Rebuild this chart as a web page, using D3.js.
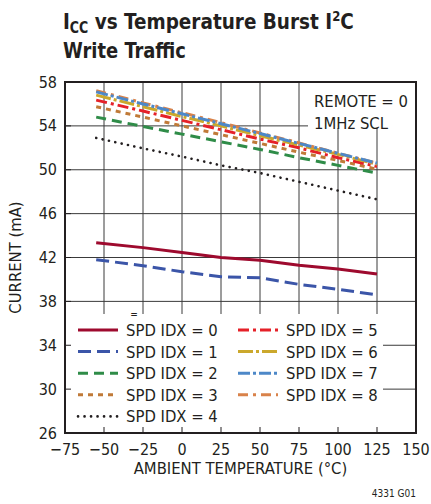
<!DOCTYPE html>
<html><head><meta charset="utf-8">
<script src="https://cdn.jsdelivr.net/npm/d3@7"></script>
<style>
body{margin:0;background:#fff;}
text{font-family:"Liberation Sans Narrow","DejaVu Sans Condensed","Roboto",sans-serif;fill:#231f20;}
</style></head>
<body><svg id="c" width="431" height="504"></svg>
<script>
const temps = [-55, -25, 0, 25, 50, 75, 100, 125];
const spd0 = [43.35, 42.9, 42.45, 42.0, 41.75, 41.3, 40.95, 40.5];
const spd1 = [41.8, 41.25, 40.7, 40.25, 40.15, 39.55, 39.1, 38.6];
const spd2 = [54.8, 53.95, 53.25, 52.55, 51.85, 51.1, 50.4, 49.7];
const spd3 = [55.75, 54.8, 54.0, 53.2, 52.4, 51.6, 50.85, 50.05];
const spd4 = [52.9, 51.95, 51.2, 50.4, 49.7, 48.9, 48.1, 47.3];
const spd5 = [56.35, 55.35, 54.5, 53.65, 52.8, 52.0, 51.1, 50.3];
const spd6 = [56.8, 55.75, 54.85, 54.0, 53.1, 52.25, 51.4, 50.5];
const spd7 = [57.1, 56.0, 55.1, 54.2, 53.3, 52.4, 51.5, 50.6];
const spd8 = [57.2, 56.1, 55.2, 54.3, 53.35, 52.45, 51.5, 50.6];
const seriesNames = ["SPD IDX = 0","SPD IDX = 1","SPD IDX = 2","SPD IDX = 3","SPD IDX = 4","SPD IDX = 5","SPD IDX = 6","SPD IDX = 7","SPD IDX = 8"];
const xTicks = [-75, -50, -25, 0, 25, 50, 75, 100, 125, 150];
const yTicks = [26, 30, 34, 38, 42, 46, 50, 54, 58];

const styles = [
  {c:"#9e0a2e", w:3, d:null},
  {c:"#3b55a8", w:3, d:"13,6"},
  {c:"#2f8c48", w:3, d:"10,6"},
  {c:"#c07a38", w:3, d:"5,5"},
  {c:"#231f20", w:2.6, d:"0.1,6.4", cap:"round"},
  {c:"#e52129", w:3, d:"11,4,3,4"},
  {c:"#cba82c", w:3, d:"15,3,3,3"},
  {c:"#4d88c8", w:3, d:"12,3,3,3"},
  {c:"#d9824a", w:3, d:"10,5,3,5"}
];
const data = [spd0,spd1,spd2,spd3,spd4,spd5,spd6,spd7,spd8];

const svg = d3.select("#c");
const L=65, R=416, T=82, B=433;
const x = d3.scaleLinear().domain([-75,150]).range([L,R]);
const y = d3.scaleLinear().domain([26,58]).range([B,T]);

// grid
const g = svg.append("g");
g.selectAll(".vg").data(xTicks.slice(1,-1)).join("line")
  .attr("x1",d=>x(d)).attr("x2",d=>x(d)).attr("y1",T).attr("y2",B)
  .attr("stroke","#3a3a3a").attr("stroke-width",1);
g.selectAll(".hg").data(yTicks.slice(1,-1)).join("line")
  .attr("x1",L).attr("x2",R).attr("y1",d=>y(d)).attr("y2",d=>y(d))
  .attr("stroke","#3a3a3a").attr("stroke-width",1);

// lines
const line = d3.line().x((d,i)=>x(temps[i])).y(d=>y(d));
const order = [0,1,4,2,3,5,6,8,7];
order.forEach(i=>{
  const s = styles[i];
  svg.append("path").datum(data[i]).attr("d",line)
    .attr("fill","none").attr("stroke",s.c).attr("stroke-width",s.w)
    .attr("stroke-dasharray",s.d).attr("stroke-linecap",s.cap||"butt");
});

// annotation box
svg.append("rect").attr("x",308).attr("y",T+1).attr("width",R-308-1).attr("height",45).attr("fill","#fff");
svg.append("text").attr("x",314).attr("y",107).attr("font-size",16.5).text("REMOTE = 0");
svg.append("text").attr("x",314).attr("y",129).attr("font-size",16.5).text("1MHz SCL");

// legend box
svg.append("rect").attr("x",L+1).attr("y",314).attr("width",383-L-1).attr("height",B-314-1).attr("fill","#fff");
svg.append("text").attr("x",134).attr("y",318).attr("font-size",10).attr("text-anchor","middle").text("=");
const legY0 = 330, legDy = 21.6;
seriesNames.forEach((n,i)=>{
  const col = i<5?0:1, row = i<5?i:i-5;
  const lx = col===0?78:238, ly = legY0+row*legDy;
  const s = styles[i];
  svg.append("line").attr("x1",lx).attr("x2",lx+40).attr("y1",ly).attr("y2",ly)
    .attr("stroke",s.c).attr("stroke-width",s.w).attr("stroke-dasharray",s.d)
    .attr("stroke-linecap",s.cap||"butt");
  svg.append("text").attr("x",lx+48).attr("y",ly+6).attr("font-size",16.5).text(n);
});

// inner ticks
svg.selectAll(".bt").data(xTicks.slice(1,-1)).join("line")
  .attr("x1",d=>x(d)).attr("x2",d=>x(d)).attr("y1",B).attr("y2",B-6)
  .attr("stroke","#231f20").attr("stroke-width",1);
svg.selectAll(".lt").data(yTicks.slice(1,-1)).join("line")
  .attr("x1",L).attr("x2",L+6).attr("y1",d=>y(d)).attr("y2",d=>y(d))
  .attr("stroke","#231f20").attr("stroke-width",1);

// frame
svg.append("rect").attr("x",L).attr("y",T).attr("width",R-L).attr("height",B-T)
  .attr("fill","none").attr("stroke","#231f20").attr("stroke-width",2);

// tick labels
const fmt = d=> d<0 ? "\u2212"+Math.abs(d) : String(d);
svg.selectAll(".xl").data(xTicks).join("text")
  .attr("x",d=>x(d)).attr("y",455).attr("text-anchor","middle").attr("font-size",16).text(fmt);
svg.selectAll(".yl").data(yTicks).join("text")
  .attr("x",57).attr("y",d=>y(d)+5.5).attr("text-anchor","end").attr("font-size",16).text(d=>d);

// axis titles
svg.append("text").attr("x",(L+R)/2).attr("y",474).attr("text-anchor","middle").attr("font-size",16.5)
  .text("AMBIENT TEMPERATURE (°C)");
svg.append("text").attr("transform",`translate(21,${(T+B)/2}) rotate(-90)`).attr("text-anchor","middle")
  .attr("font-size",16.5).text("CURRENT (mA)");
svg.append("text").attr("x",416).attr("y",497).attr("text-anchor","end").attr("font-size",10).text("4331 G01");

// title
function titleLine(yy, width, build){
  const gg = svg.append("g");
  const t = gg.append("text").attr("x",0).attr("y",0).attr("font-size",22).attr("font-weight","bold");
  build(t);
  const w = t.node().getComputedTextLength();
  gg.attr("transform",`translate(63,${yy}) scale(${width/w},1)`);
}
titleLine(29, 291, t=>{
  t.append("tspan").text("I");
  t.append("tspan").attr("font-size",15).attr("dy",4).text("CC");
  t.append("tspan").attr("dy",-4).text(" vs Temperature Burst I");
  t.append("tspan").attr("font-size",14).attr("dy",-8).text("2");
  t.append("tspan").attr("dy",8).text("C");
});
titleLine(58, 123, t=>{ t.text("Write Traffic"); });
</script></body></html>
